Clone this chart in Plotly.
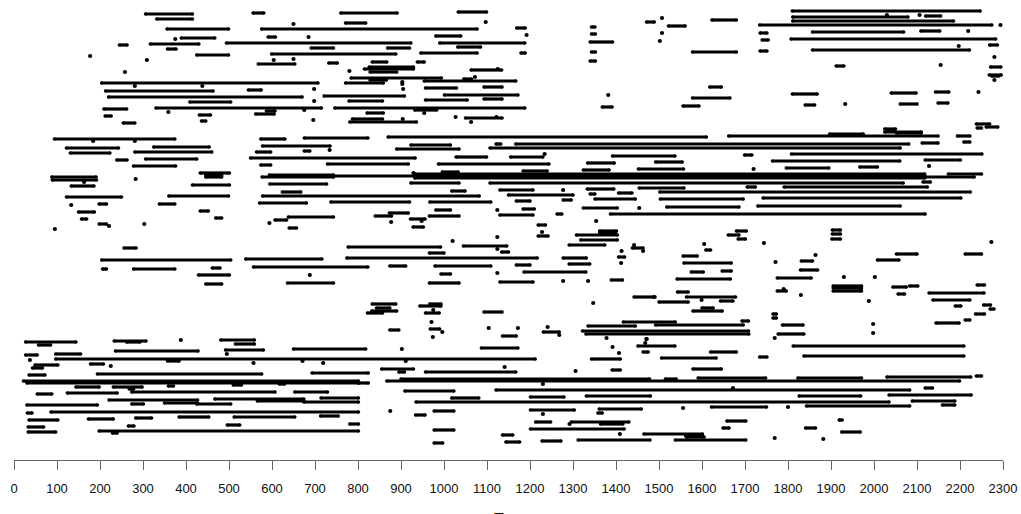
import plotly.graph_objects as go

# each entry: (start, end, track)
intervals_top = [
(306,415,447),(332,415,442),(556,581,448),(760,891,448),(1033,1099,449),(771,818,438),
(356,499,432),(576,1077,432),(389,467,423),(591,608,424),(981,1039,425),(245,263,416),
(317,430,417),(494,923,418),(990,1188,418),(357,377,412),(691,743,413),(869,920,413),
(1032,1085,414),(425,499,406),(599,888,407),(946,1077,408),(568,653,397),(732,752,398),
(833,867,399),(938,954,399),(815,929,392),(826,929,394),(828,890,389),(1063,1134,391),
(784,994,383),(828,866,381),(954,1167,380),(1046,1064,382),(204,707,378),(771,859,378),
(213,463,370),(545,575,371),(957,1029,373),(1093,1135,374),(220,670,364),(721,908,365),
(1001,1172,366),(409,504,359),(779,857,360),(957,1054,361),(1093,1135,362),(209,262,352),
(330,715,353),(746,1188,353),(587,607,350),(932,983,351),(562,605,347),(431,457,346),
(212,226,345),(821,859,348),(1050,1135,343),(787,857,342),(781,936,339),(254,281,338),
(436,446,340),(1169,1189,433),(1179,1189,408),(1343,1351,434),(1343,1352,427),
(1340,1392,419),(1343,1352,409),(1340,1352,400),(1471,1489,439),(1522,1561,435),
(1623,1680,441),(1578,1680,409),(1810,2247,450),(1811,2079,444),(1811,2185,440),
(2120,2155,445),(1734,2274,436),(1735,1751,428),(1857,2069,429),(2109,2153,430),
(1740,1754,421),(1807,2283,422),(2269,2287,416),(1735,1751,410),(1857,2222,411),
(1912,1930,395),(2271,2295,394),(2268,2296,386),(2274,2290,385),(1618,1645,374),
(1578,1665,363),(1556,1593,355),(1368,1391,354),(1810,1868,367),(2040,2098,368),
(2143,2174,369),(1840,1862,356),(2061,2100,357),(2149,2172,358),
]
dots_top = [
(650,437),(1097,439),(375,422),(685,424),(177,405),(309,401),(604,401),(650,402),
(1125,392),(780,390),(258,389),(1072,384),(281,375),(438,375),(903,379),(903,377),
(905,372),(698,372),(698,360),(359,349),(675,351),(954,348),(1027,344),(1122,344),
(904,342),(696,341),(1063,339),(1192,426),(1507,443),(1507,428),(1502,420),(2030,446),
(2106,446),(2294,436),(2219,430),(2197,415),(2280,404),(2155,396),(2280,381),(1382,366),
(2243,369),(1933,357),
]
intervals_middle = [
(94,374,322),(574,630,322),(675,823,323),(870,1610,324),(122,243,313),(325,454,314),
(578,735,315),(923,1015,316),(1121,1132,317),(131,223,308),(281,460,309),(564,597,309),
(675,688,310),(890,1035,312),(1107,2061,313),(1167,2081,317),(239,263,301),(306,425,302),
(550,933,303),(1028,1099,304),(278,376,295),(574,597,296),(729,917,297),(987,1244,297),
(433,501,288),(446,483,286),(446,483,284),(88,191,284),(89,192,281),(133,186,275),
(415,501,276),(122,250,264),(360,499,265),(577,743,284),(594,743,286),(932,2118,287),
(743,2118,285),(932,2118,283),(996,1033,289),(595,727,277),(923,1035,278),(1107,2068,278),
(2114,2233,284),(2173,2250,287),(2114,2131,279),(578,1082,265),(624,667,269),(1018,1049,270),
(1130,1207,271),(338,374,257),(571,680,258),(737,920,259),(967,1109,259),(1150,1300,266),
(198,215,257),(150,187,249),(433,452,250),(981,1015,251),(1130,1207,246),(1168,1200,260),
(873,917,248),(840,878,245),(966,1035,245),(638,743,244),(157,169,242),(469,483,243),
(607,634,241),(922,956,242),(198,215,237),(640,657,233),(928,952,234),(1662,2149,325),
(1897,1975,327),(2025,2110,329),(2029,2048,331),(2052,2110,328),(2194,2223,325),
(2238,2269,337),(2261,2288,334),(2240,2250,333),(2112,2149,318),(2209,2223,319),
(1155,1230,304),(1392,1537,305),(1699,1716,306),(1808,2251,307),(1334,1396,298),
(1492,1554,299),(1764,2060,300),(2119,2201,301),(1184,1240,290),(1324,1384,291),
(1452,1557,292),(1796,1895,293),(1967,2008,294),(1333,1395,272),(1454,1558,273),
(1705,1724,274),(1791,2124,274),(1340,1351,267),(1406,1437,268),(1502,2224,269),
(1277,1296,261),(1351,1445,262),(1503,1696,262),(1742,2202,263),(1184,1210,252),
(1324,1403,253),(1518,1686,254),(1730,2061,255),(1263,1274,247),(1387,2119,247),
(1219,1236,236),(2025,2050,332),
]
dots_middle = [
(184,320),(281,320),(734,311),(283,282),(163,279),(929,288),(133,256),(1124,251),
(221,235),(303,237),(95,232),(594,238),(877,239),(948,240),(1234,307),(1720,292),
(2128,295),(1277,271),(1454,253),(1354,240),
]
intervals_lower = [
(256,284,213),(204,504,201),(206,215,192),(278,374,192),(461,479,193),(429,501,186),
(446,483,177),(539,716,202),(557,823,194),(636,743,178),(777,992,214),(774,1217,203),
(966,1000,208),(1045,1146,215),(1134,1150,209),(874,911,195),(979,1109,195),(993,1015,187),
(966,1035,178),(1130,1207,179),(833,888,157),(843,874,153),(832,890,150),(822,857,148),
(944,993,155),(967,993,157),(957,989,148),(1093,1135,149),(874,895,131),(968,990,132),
(1136,1168,125),(1219,1242,225),(1308,1403,226),(1362,1401,230),(1362,1399,228),
(1318,1403,221),(1291,1374,216),(1661,1686,226),(1680,1703,230),(1684,1701,222),
(1903,1922,231),(1903,1922,227),(1902,1922,222),(1438,1463,213),(1406,1420,204),
(1609,1620,211),(1556,1589,205),(1277,1331,203),(1168,1200,196),(1291,1339,197),
(1558,1668,198),(1575,1603,189),(1647,1668,190),(1186,1330,189),(1831,1857,200),
(1829,1869,191),(2052,2100,207),(2008,2058,201),(2212,2250,207),(1775,1854,183),
(1542,1666,182),(1389,1415,181),(1905,1971,175),(1905,1971,173),(1905,1971,170),
(2044,2075,174),(2083,2102,175),(2056,2071,167),(2240,2257,176),(2128,2256,168),
(2137,2223,161),(2189,2202,155),(2255,2271,156),(2270,2279,152),(2236,2257,147),
(2212,2223,141),(2144,2198,138),(1543,1568,169),(1564,1678,164),(1500,1568,159),
(1643,1672,160),(1600,1626,153),(1579,1647,150),(1442,1488,164),(1775,1796,170),
(1417,1538,139),(1492,1696,136),(1693,1708,140),(1335,1445,135),(1231,1268,129),
(1322,1708,130),(1330,1709,127),(1765,1773,147),(1765,1773,143),(1787,1835,136),
(1777,1837,127),
]
dots_lower = [
(1020,220),(1124,224),(1124,212),(688,186),(1124,188),(975,151),(971,139),(996,129),
(974,124),(1104,133),(1228,229),(1605,217),(1744,218),(2273,219),(1442,216),(1463,210),
(1413,210),(1412,198),(1864,206),(1771,199),(1277,180),(1335,180),(1930,184),(2002,184),
(1969,171),(1599,161),(1790,172),(1830,166),(1988,160),(1347,158),(1172,133),(1241,134),
(1268,126),(1998,137),(1998,128),(1769,123),(1378,123),(1471,122),(1490,164),
]
intervals_bottom = [
(27,144,119),(57,85,116),(233,307,120),(262,293,119),(481,559,121),(515,559,117),
(236,428,110),(492,580,111),(650,818,112),(1087,1172,113),(27,54,106),(97,155,107),
(97,1212,102),(357,384,100),(49,102,96),(43,66,93),(178,208,97),(855,929,92),(895,908,89),
(957,1167,89),(194,576,87),(693,824,88),(35,72,86),(22,801,80),(30,801,78),(801,824,78),
(359,371,75),(510,529,76),(617,629,77),(144,198,74),(231,298,74),(268,278,72),(274,607,69),
(54,88,67),(124,240,68),(653,729,69),(867,2199,80),(900,1478,82),(1515,1540,82),
(1591,1748,83),(1823,1971,83),(2030,2225,84),(2238,2250,85),(909,1023,70),(1121,2083,71),
(2119,2136,73),(1201,1279,64),(1331,1480,65),(1826,1969,65),(2035,2226,66),(1018,1081,63),
(935,2035,59),(221,427,61),(467,674,62),(714,801,63),(566,674,60),(350,427,58),(425,504,57),
(674,801,59),(274,301,57),(30,194,56),(2089,2188,60),(1843,2083,55),(2159,2188,56),
(1622,1750,54),(1201,1303,51),(1361,1459,52),(31,42,48),(86,801,49),(977,1023,50),
(934,956,46),(713,754,45),(512,653,44),(384,453,44),(283,320,43),(173,231,42),(35,102,41),
(1358,1368,48),(1658,1702,40),(1919,1926,41),(1213,1248,39),(1296,1430,39),(1364,1416,37),
(1201,1419,32),(1649,1663,33),(1841,1864,33),(1925,1968,29),(1465,1601,27),(1562,1601,25),
(1564,1605,24),(1538,1702,21),(1228,1272,20),(1312,1479,21),(1144,1176,19),(266,279,35),
(496,525,36),(781,801,37),(33,69,34),(33,97,29),(198,801,30),(229,240,28),(977,1023,31),
(1136,1160,26),(977,997,18),(1812,2209,115),(1451,1537,115),(1463,1475,109),(1620,1680,109),
(1506,1633,103),(1343,1410,102),(1734,1751,104),(1837,2209,105),(1391,1410,91),(1579,1645,92),
]
dots_bottom = [
(388,121),(902,112),(495,107),(37,101),(671,100),(911,100),(719,98),(557,98),(225,95),
(1141,94),(1230,77),(1672,73),(1556,53),(1800,54),(875,50),(1230,47),(1292,37),(1769,23),
(1882,22),(1409,27),(1392,114),(1407,108),(1471,122),(1468,118),(1306,90),
]
tick_values = list(range(0, 2301, 100))
axis_title = "Text"

intervals = intervals_top + intervals_middle + intervals_lower + intervals_bottom
dots = dots_top + dots_middle + dots_lower + dots_bottom

line_x, line_y, cap_x, cap_y = [], [], [], []
for s, e, t in intervals:
    line_x += [s, e, None]
    line_y += [t, t, None]
    cap_x += [s, e]
    cap_y += [t, t]

fig = go.Figure()
fig.add_trace(go.Scatter(x=line_x, y=line_y, mode="lines", line=dict(color="black", width=3.2),
                         connectgaps=False, hoverinfo="skip", cliponaxis=False))
fig.add_trace(go.Scatter(x=cap_x, y=cap_y, mode="markers", marker=dict(color="black", size=3.6, line=dict(width=0)),
                         hoverinfo="skip", cliponaxis=False))
fig.add_trace(go.Scatter(x=[d[0] for d in dots], y=[d[1] for d in dots], mode="markers",
                         marker=dict(color="black", size=4.2, line=dict(width=0)), hoverinfo="skip", cliponaxis=False))
fig.update_layout(
    width=1021, height=514, showlegend=False, autosize=False,
    paper_bgcolor="white", plot_bgcolor="white",
    margin=dict(l=14, r=18, t=0, b=54),
    font=dict(family="Liberation Sans, Arial, sans-serif", color="#111", size=13),
    xaxis=dict(range=[0, 2300], tickmode="array", tickvals=tick_values,
               ticktext=[str(v) for v in tick_values], ticks="outside", ticklen=9, tickwidth=1.2,
               tickcolor="#666", showline=True, linecolor="#666", linewidth=1.2, showgrid=False,
               zeroline=False, tickangle=0, tickfont=dict(size=13), ticklabelstandoff=7),
    yaxis=dict(range=[1, 461], visible=False, fixedrange=True),
)
fig.add_annotation(text=axis_title, xref="paper", x=0.5, yref="paper", y=0, yshift=-49, yanchor="top",
                   showarrow=False, font=dict(size=16))
fig.write_html("out.html", config={"displayModeBar": False},
               post_script="document.documentElement.style.overflow='hidden';document.body.style.margin='0';")
